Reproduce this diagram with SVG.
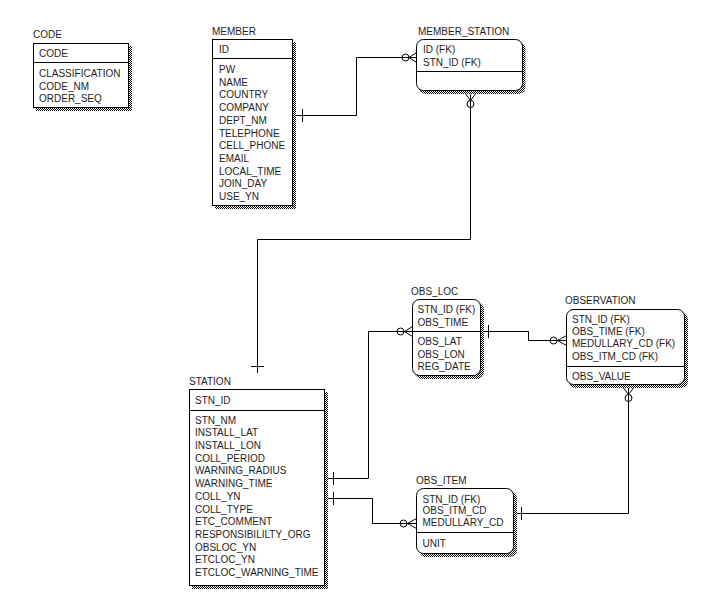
<svg xmlns="http://www.w3.org/2000/svg" width="705" height="600" viewBox="0 0 705 600">
<style>
text{font-family:"Liberation Sans",Arial,sans-serif;font-size:10px;fill:#1e1e1e}
.box{fill:#fff;stroke:#000;stroke-width:1}
.shadow{fill:url(#dither)}
.div{stroke:#000;stroke-width:1}
.conn path,.conn line{fill:none;stroke:#000;stroke-width:1}
.conn circle{fill:none;stroke:#000;stroke-width:1}
</style>
<defs>
<pattern id="dither" patternUnits="userSpaceOnUse" width="2" height="2">
<rect width="2" height="2" fill="#fff"/>
<rect x="0" y="0" width="1" height="1" fill="#000"/>
<rect x="1" y="1" width="1" height="1" fill="#000"/>
</pattern>
</defs>
<rect width="705" height="600" fill="#fff"/>

<g id="code">
<text x="33" y="38">CODE</text>
<rect class="shadow" x="36" y="46" width="96" height="65"/>
<rect class="box" x="33.5" y="43.5" width="95" height="64"/>
<line class="div" x1="33.5" y1="62.5" x2="128.5" y2="62.5"/>
<text x="39" y="57">CODE</text>
<text x="39" y="77">CLASSIFICATION</text>
<text x="39" y="89.7">CODE_NM</text>
<text x="39" y="102.4">ORDER_SEQ</text>
</g>

<g id="member">
<text x="212" y="35">MEMBER</text>
<rect class="shadow" x="215" y="42" width="81" height="167"/>
<rect class="box" x="212.5" y="39.5" width="80" height="166"/>
<line class="div" x1="212.5" y1="58.5" x2="292.5" y2="58.5"/>
<text x="219" y="52.5">ID</text>
<text x="219" y="73">PW</text>
<text x="219" y="85.7">NAME</text>
<text x="219" y="98.4">COUNTRY</text>
<text x="219" y="111.1">COMPANY</text>
<text x="219" y="123.8">DEPT_NM</text>
<text x="219" y="136.5">TELEPHONE</text>
<text x="219" y="149.2">CELL_PHONE</text>
<text x="219" y="161.9">EMAIL</text>
<text x="219" y="174.6">LOCAL_TIME</text>
<text x="219" y="187.3">JOIN_DAY</text>
<text x="219" y="200">USE_YN</text>
</g>

<g id="member_station">
<text x="418" y="35">MEMBER_STATION</text>
<rect class="shadow" x="419" y="42" width="106.5" height="52" rx="7"/>
<rect class="box" x="416.5" y="39.5" width="106" height="51" rx="7"/>
<line class="div" x1="416.5" y1="71.5" x2="522.5" y2="71.5"/>
<text x="423" y="53">ID (FK)</text>
<text x="423" y="65.7">STN_ID (FK)</text>
</g>

<g id="obs_loc">
<text x="411" y="295">OBS_LOC</text>
<rect class="shadow" x="415" y="302" width="69" height="77" rx="7"/>
<rect class="box" x="412.5" y="299.5" width="68" height="76" rx="7"/>
<line class="div" x1="412.5" y1="331.5" x2="480.5" y2="331.5"/>
<text x="417.5" y="313">STN_ID (FK)</text>
<text x="417.5" y="325.5">OBS_TIME</text>
<text x="417.5" y="345">OBS_LAT</text>
<text x="417.5" y="357.6">OBS_LON</text>
<text x="417.5" y="370.2">REG_DATE</text>
</g>

<g id="observation">
<text x="565" y="303.5">OBSERVATION</text>
<rect class="shadow" x="569" y="312" width="119" height="76" rx="7"/>
<rect class="box" x="566.5" y="309.5" width="118" height="75" rx="7"/>
<line class="div" x1="566.5" y1="366.5" x2="684.5" y2="366.5"/>
<text x="572" y="323">STN_ID (FK)</text>
<text x="572" y="335.2">OBS_TIME (FK)</text>
<text x="572" y="347.4">MEDULLARY_CD (FK)</text>
<text x="572" y="359.6">OBS_ITM_CD (FK)</text>
<text x="572" y="380">OBS_VALUE</text>
</g>

<g id="obs_item">
<text x="416" y="483.5">OBS_ITEM</text>
<rect class="shadow" x="419" y="491" width="98" height="66" rx="7"/>
<rect class="box" x="416.5" y="488.5" width="97" height="65" rx="7"/>
<line class="div" x1="416.5" y1="532.5" x2="513.5" y2="532.5"/>
<text x="422.5" y="502.5">STN_ID (FK)</text>
<text x="422.5" y="514.2">OBS_ITM_CD</text>
<text x="422.5" y="525.9">MEDULLARY_CD</text>
<text x="422.5" y="547.3">UNIT</text>
</g>

<g id="station">
<text x="189" y="385">STATION</text>
<rect class="shadow" x="192" y="392" width="136" height="197"/>
<rect class="box" x="189.5" y="389.5" width="135" height="196"/>
<line class="div" x1="189.5" y1="410.5" x2="324.5" y2="410.5"/>
<text x="195" y="403.5">STN_ID</text>
<text x="195" y="423.5">STN_NM</text>
<text x="195" y="436.2">INSTALL_LAT</text>
<text x="195" y="448.9">INSTALL_LON</text>
<text x="195" y="461.7">COLL_PERIOD</text>
<text x="195" y="474.4">WARNING_RADIUS</text>
<text x="195" y="487.1">WARNING_TIME</text>
<text x="195" y="499.8">COLL_YN</text>
<text x="195" y="512.5">COLL_TYPE</text>
<text x="195" y="525.2">ETC_COMMENT</text>
<text x="195" y="537.9">RESPONSIBILILTY_ORG</text>
<text x="195" y="550.7">OBSLOC_YN</text>
<text x="195" y="563.4">ETCLOC_YN</text>
<text x="195" y="576.1">ETCLOC_WARNING_TIME</text>
</g>

<g id="connectors" class="conn">
<!-- MEMBER - MEMBER_STATION -->
<path d="M296,115.5 H356.5 V57.5 H416.5"/>
<line x1="302.5" y1="109" x2="302.5" y2="122"/>
<circle cx="405.5" cy="57.5" r="3.5"/>
<path d="M416.5,52.5 L409,57.5 L416.5,62.5"/>

<!-- MEMBER_STATION - STATION -->
<path d="M470.5,94 V239.5 H257.5 V373"/>
<line x1="251" y1="366.5" x2="264" y2="366.5"/>
<circle cx="470.5" cy="104" r="3.5"/>
<path d="M465.5,94 L470.5,100.5 L475.5,94"/>

<!-- STATION - OBS_LOC -->
<path d="M328,478.5 H368.5 V331.5 H412.5"/>
<line x1="333.5" y1="472" x2="333.5" y2="485"/>
<circle cx="400.5" cy="331.5" r="3.5"/>
<path d="M412.5,326.5 L404.5,331.5 L412.5,336.5"/>

<!-- STATION - OBS_ITEM -->
<path d="M328,498.5 H372.5 V523.5 H416.5"/>
<line x1="333.5" y1="492" x2="333.5" y2="505"/>
<circle cx="403.5" cy="523.5" r="3.5"/>
<path d="M416.5,518.5 L407.5,523.5 L416.5,528.5"/>

<!-- OBS_LOC - OBSERVATION -->
<path d="M484,331.5 H528.5 V340.5 H566.5"/>
<line x1="488.5" y1="325" x2="488.5" y2="338"/>
<circle cx="553.5" cy="340.5" r="3.5"/>
<path d="M566.5,335.5 L557.5,340.5 L566.5,345.5"/>

<!-- OBSERVATION - OBS_ITEM -->
<path d="M628.5,388 V513.5 H517"/>
<line x1="521.5" y1="507" x2="521.5" y2="520"/>
<circle cx="628.5" cy="398" r="3.5"/>
<path d="M623.5,388 L628.5,394.5 L633.5,388"/>
</g>
</svg>
